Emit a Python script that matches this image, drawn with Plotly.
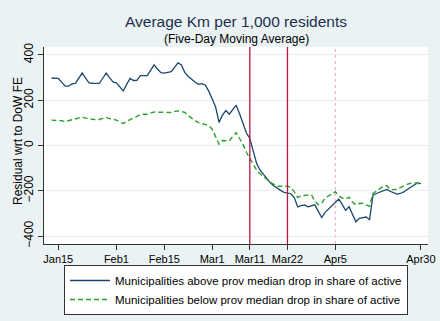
import pandas as pd
import plotly.graph_objects as go

# Daily dates, Jan 13 2020 .. Apr 30 2020
dates = pd.date_range("2020-01-13", "2020-04-30", freq="D")

above = [298, 296, 296, 280, 262, 262, 272, 274, 296, 320, 298, 277, 275, 274, 274, 297, 320, 300,
         281, 277, 260, 241, 270, 296, 287, 288, 309, 309, 309, 332, 356, 338, 322, 320, 322, 326,
         345, 365, 356, 322, 305, 291, 280, 270, 273, 266, 240, 205, 170, 102, 134, 154, 138, 158,
         178, 140, 97, 55, 31, -25, -80, -109, -128, -146, -165, -178, -190, -198, -207, -210, -213,
         -230, -271, -266, -262, -271, -266, -262, -290, -318, -295, -280, -268, -252, -236, -260,
         -287, -270, -300, -337, -322, -318, -316, -327, -219, -212, -206, -200, -194, -202, -210,
         -215, -212, -205, -194, -183, -172, -165, -168]

below = [112, 111, 112, 109, 106, 109, 112, 117, 122, 126, 121, 117, 116, 115, 115, 120, 124, 119,
         115, 112, 104, 97, 106, 114, 120, 128, 137, 138, 138, 143, 148, 147, 146, 146, 146, 146,
         150, 153, 150, 146, 132, 120, 110, 101, 96, 92, 88, 72, 38, 6, 22, 22, 20, 40,
         57, 31, 5, -30, -57, -85, -109, -125, -139, -150, -162, -172, -180, -180, -178, -180, -185,
         -205, -229, -222, -219, -219, -218, -245, -262, -255, -232, -222, -212, -204, -222, -232,
         -236, -228, -250, -262, -256, -255, -262, -268, -212, -200, -190, -180, -177, -195, -195,
         -193, -186, -178, -172, -167, -165, -167, -171]

tick_dates = ["2020-01-15", "2020-02-01", "2020-02-15", "2020-02-29", "2020-03-11",
              "2020-03-22", "2020-04-05", "2020-04-30"]
tick_labels = ["Jan15", "Feb1", "Feb15", "Mar1", "Mar11", "Mar22", "Apr5", "Apr30"]
y_ticks = [-400, -200, 0, 200, 400]

event_solid = ["2020-03-11", "2020-03-22"]
event_dotted = ["2020-04-05"]

name_above = "Municipalities above prov median drop in share of active"
name_below = "Municipalities below prov median drop in share of active"

FONT = "Liberation Sans, Arial, sans-serif"

W, H = 440, 321
ML, MR, MT, MB = 44, 12, 47, 77
plot_w = W - ML - MR
plot_h = H - MT - MB


def px_x(pix):
    return (pix - ML) / plot_w


def px_y(pix):
    return (H - MB - pix) / plot_h


fig = go.Figure()
fig.add_trace(go.Scatter(x=dates, y=above, mode="lines", name=name_above,
                         line=dict(color="#1a476f", width=1.3)))
fig.add_trace(go.Scatter(x=dates, y=below, mode="lines", name=name_below,
                         line=dict(color="#2ca02c", width=1.4, dash="5px,3px")))

shapes = []
for d in event_solid:
    shapes.append(dict(type="line", xref="x", yref="paper", x0=d, x1=d, y0=0, y1=1,
                       line=dict(color="#b5183f", width=1.3), layer="above"))
for d in event_dotted:
    shapes.append(dict(type="line", xref="x", yref="paper", x0=d, x1=d, y0=0, y1=1,
                       line=dict(color="#f5a3bb", width=1, dash="dot"), layer="below"))

fig.update_layout(
    width=W, height=H,
    margin=dict(l=ML, r=MR, t=MT, b=MB, autoexpand=False),
    paper_bgcolor="#eaf2f3",
    plot_bgcolor="#ffffff",
    font=dict(family=FONT, color="#000000", size=11),
    showlegend=True,
    legend=dict(x=0.5, xanchor="center", y=px_y(265), yanchor="top",
                bgcolor="#ffffff", bordercolor="#333333", borderwidth=1,
                font=dict(size=11.5, family=FONT, color="#000000"),
                tracegroupgap=0, itemwidth=40),
    shapes=shapes,
)

fig.add_annotation(text="Average Km per 1,000 residents", x=0.5, xref="paper", y=px_y(21.5),
                   yref="paper", showarrow=False, yanchor="middle",
                   font=dict(size=15.5, color="#1e2f4f", family=FONT))
fig.add_annotation(text="(Five-Day Moving Average)", x=0.5, xref="paper", y=px_y(39.5),
                   yref="paper", showarrow=False, yanchor="middle",
                   font=dict(size=12, color="#000000", family=FONT))
fig.add_annotation(text="Residual wrt to DoW FE", x=px_x(18), xref="paper", y=px_y(141),
                   yref="paper", showarrow=False, textangle=-90, xanchor="center",
                   yanchor="middle",
                   font=dict(size=12, color="#000000", family=FONT))

fig.update_xaxes(type="date", range=["2020-01-10 20:00", "2020-05-02 02:00"],
                 tickvals=tick_dates, ticktext=tick_labels, automargin=False,
                 ticks="outside", ticklen=5, tickcolor="#333333", tickwidth=1,
                 showline=True, linecolor="#333333", linewidth=1,
                 showgrid=False, zeroline=False,
                 tickfont=dict(size=11, family=FONT, color="#000000"))
fig.update_yaxes(range=[-435, 435], tickvals=y_ticks, automargin=False,
                 ticks="outside", ticklen=5, tickcolor="#333333", tickwidth=1,
                 showline=True, linecolor="#333333", linewidth=1,
                 showgrid=True, gridcolor="#e6eff1", gridwidth=1, zeroline=False,
                 tickangle=-90,
                 tickfont=dict(size=12, family=FONT, color="#000000"))

fig.write_html("out.html", config={"displayModeBar": False},
               post_script="document.body.style.margin='0px';document.body.style.overflow='hidden';")
